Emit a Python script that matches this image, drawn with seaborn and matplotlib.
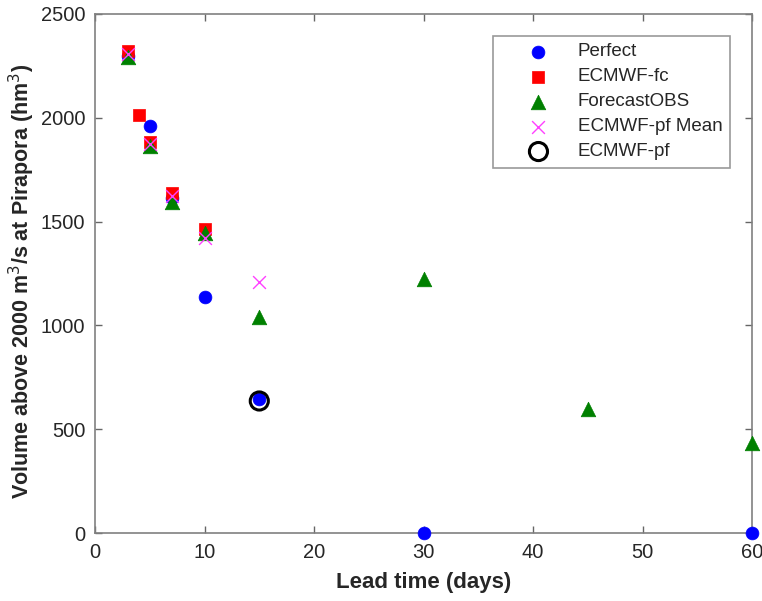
import numpy as np
import pandas as pd
import matplotlib
matplotlib.use('Agg')
import matplotlib.pyplot as plt
import seaborn as sns

# lead times (days) and volumes (hm3) per series
perfect_x = [3, 5, 7, 10, 15, 30, 60]
perfect_y = [2295, 1962, 1615, 1136, 644, 0, 0]

fc_x = [3, 4, 5, 7, 10]
fc_y = [2322, 2012, 1881, 1636, 1466]

obs_x = [3, 5, 7, 10, 15, 30, 45, 60]
obs_y = [2290, 1866, 1595, 1443, 1040, 1221, 597, 433]

pfmean_x = [3, 5, 7, 10, 15]
pfmean_y = [2308, 1875, 1625, 1420, 1210]

pf_x = [15]
pf_y = [636]

sns.set_theme(style="white")
plt.rcParams['font.family'] = ['Liberation Sans', 'DejaVu Sans']

fig = plt.figure(figsize=(7.62, 6.01), dpi=100)
ax = fig.add_axes([0.1247, 0.113, 0.8623, 0.864])

sns.scatterplot(x=perfect_x, y=perfect_y, marker='o', color='#0000ff', s=85,
                edgecolor='#0000ff', linewidth=0.5, label='Perfect', ax=ax, zorder=3, clip_on=False)
sns.scatterplot(x=fc_x, y=fc_y, marker='s', color='#ff0000', s=75,
                edgecolor='#ff0000', linewidth=0.5, label='ECMWF-fc', ax=ax, zorder=4, clip_on=False)
sns.scatterplot(x=obs_x, y=obs_y, marker='^', color='#008000', s=110,
                edgecolor='#008000', linewidth=0.5, label='ForecastOBS', ax=ax, zorder=5, clip_on=False)
sns.scatterplot(x=pfmean_x, y=pfmean_y, marker='x', color='#ff40ff', s=85,
                linewidth=1.0, label='ECMWF-pf Mean', ax=ax, zorder=6, clip_on=False)
sns.scatterplot(x=pf_x, y=pf_y, marker='o', facecolor='none', edgecolor='black', s=170,
                linewidth=2.2, label='ECMWF-pf', ax=ax, zorder=7, clip_on=False)

ax.set_xlim(0, 60)
ax.set_ylim(0, 2500)
ax.set_xticks(np.arange(0, 61, 10))
ax.set_yticks(np.arange(0, 2501, 500))
ax.tick_params(direction='in', length=5, width=1, colors='#666666',
               labelcolor='#262626', labelsize=14.5, pad=7, top=True, right=True,
               bottom=True, left=True)
for sp in ax.spines.values():
    sp.set_color('#808080')
    sp.set_linewidth(1.2)

ax.set_xlabel('Lead time (days)', fontsize=16, fontweight='bold', color='#262626', labelpad=7)
ax.set_ylabel(r'Volume above 2000 m$^3$/s at Pirapora (hm$^3$)', fontsize=15.5,
              fontweight='bold', color='#262626')
ax.yaxis.set_label_coords(-0.088, 0.485)

leg = ax.legend(loc='upper right', bbox_to_anchor=(0.9665, 0.9576), fontsize=13.5,
                frameon=True, fancybox=False, edgecolor='#808080', borderpad=0.4,
                labelspacing=0.42, handlelength=4.0, handletextpad=0.1, borderaxespad=0)
leg.get_frame().set_linewidth(1.2)

fig.savefig('out.png', dpi=100)
